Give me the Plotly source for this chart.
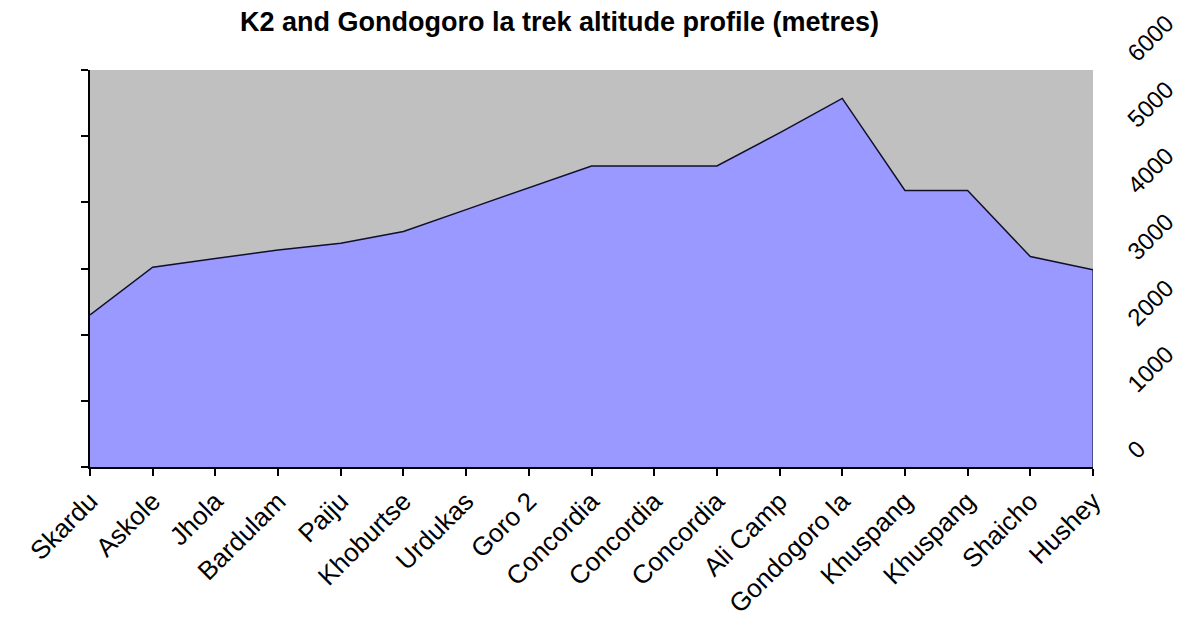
import plotly.graph_objects as go

places = ["Skardu", "Askole", "Jhola", "Bardulam", "Paiju", "Khoburtse", "Urdukas",
          "Goro 2", "Concordia", "Concordia", "Concordia", "Ali Camp", "Gondogoro la",
          "Khuspang", "Khuspang", "Shaicho", "Hushey"]
altitude = [2300, 3020, 3150, 3280, 3380, 3560, 3890, 4220, 4550, 4550, 4550,
            5050, 5570, 4180, 4180, 3180, 2980]
y_ticks = [0, 1000, 2000, 3000, 4000, 5000, 6000]

idx = list(range(len(places)))
FONT = "Arial, Liberation Sans, sans-serif"

fig = go.Figure()
fig.add_trace(go.Scatter(
    x=idx, y=altitude, mode="lines", fill="tozeroy",
    fillcolor="#9999FF", line=dict(color="#10102a", width=1.5),
    hoverinfo="skip", showlegend=False))
fig.add_trace(go.Scatter(
    x=idx, y=altitude, mode="lines", yaxis="y2",
    line=dict(color="rgba(0,0,0,0)", width=0),
    hoverinfo="skip", showlegend=False))

fig.add_shape(type="line", xref="x", yref="y",
              x0=idx[-1], x1=idx[-1], y0=0, y1=altitude[-1],
              line=dict(color="#1a1a40", width=1.2))

fig.update_layout(
    width=1183, height=622,
    margin=dict(l=90, r=90, t=70, b=155, autoexpand=False),
    paper_bgcolor="white", plot_bgcolor="#C0C0C0",
    font=dict(family=FONT, color="black", size=22),
    title=dict(text="<b>K2 and Gondogoro la trek altitude profile (metres)</b>",
               x=0.473, xanchor="center", y=0.966, yanchor="middle",
               automargin=False,
               font=dict(family=FONT, size=27, color="black")),
    xaxis=dict(range=[idx[0], idx[-1]], tickvals=idx, ticktext=places,
               tickangle=-45, showline=True, linecolor="black", linewidth=1.5,
               ticks="outside", ticklen=7, tickcolor="black", tickwidth=1.5,
               showgrid=False, zeroline=False, automargin=False,
               tickfont=dict(size=26)),
    yaxis=dict(range=[0, 6000], tickvals=y_ticks, showticklabels=False,
               showline=True, linecolor="black", linewidth=1.5,
               ticks="outside", ticklen=7, tickcolor="black", tickwidth=1.5,
               showgrid=False, zeroline=False, automargin=False),
    yaxis2=dict(range=[0, 6000], tickvals=y_ticks, overlaying="y", side="right",
                showline=False, ticks="", showgrid=False, zeroline=False,
                automargin=False,
                tickangle=-45, ticklabelstandoff=35, ticklabelshift=-12,
                tickfont=dict(size=24)),
)

fig.write_html("out.html", config={"displayModeBar": False},
               post_script="document.body.style.margin='0';"
                           "document.body.style.overflow='hidden';")
